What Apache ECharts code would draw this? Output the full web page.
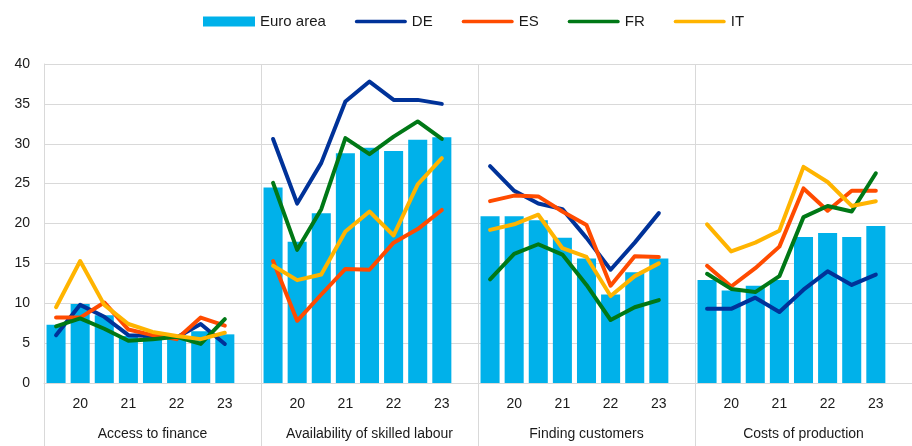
<!DOCTYPE html>
<html>
<head>
<meta charset="utf-8">
<script src="https://cdn.jsdelivr.net/npm/echarts@6/dist/echarts.min.js"></script>
<style>
  html, body { margin: 0; padding: 0; background: #fff; }
  #chart { width: 912px; height: 446px; }
</style>
</head>
<body>
<div id="chart"></div>
<script>
// topics (panels) and half-year periods inside each panel
const topics = ["Access to finance", "Availability of skilled labour", "Finding customers", "Costs of production"];
const periodLabels = ["", "20", "", "21", "", "22", "", "23"];

// one row per topic, 8 half-years each
const euroArea = [
	[7.3, 9.9, 8.5, 5.9, 5.8, 5.8, 6.5, 6.1],
	[24.5, 17.7, 21.3, 28.8, 29.5, 29.1, 30.5, 30.8],
	[20.9, 20.9, 20.4, 18.2, 15.6, 11.1, 13.9, 15.6],
	[12.9, 11.6, 12.2, 12.9, 18.3, 18.8, 18.3, 19.7],
];
const de = [
	[6.0, 9.8, 8.3, 6.0, 5.9, 5.7, 7.4, 4.9],
	[30.6, 22.5, 27.6, 35.3, 37.8, 35.5, 35.5, 35.0],
	[27.2, 24.1, 22.5, 21.8, 18.2, 14.2, 17.6, 21.3],
	[9.3, 9.3, 10.7, 8.9, 11.7, 14.0, 12.3, 13.6],
];
const es = [
	[8.2, 8.2, 10.1, 6.7, 6.0, 5.5, 8.2, 7.2],
	[15.3, 7.8, 11.1, 14.3, 14.2, 17.6, 19.3, 21.7],
	[22.8, 23.5, 23.4, 21.5, 19.8, 12.2, 15.9, 15.8],
	[14.7, 12.1, 14.4, 17.1, 24.4, 21.6, 24.1, 24.1],
];
const fr = [
	[7.1, 8.1, 6.8, 5.3, 5.5, 5.8, 4.9, 8.0],
	[25.1, 16.7, 21.8, 30.7, 28.7, 30.9, 32.8, 30.6],
	[13.0, 16.2, 17.4, 16.1, 12.3, 7.9, 9.5, 10.4],
	[13.7, 11.8, 11.4, 13.4, 20.8, 22.2, 21.5, 26.3],
];
const it = [
	[9.5, 15.3, 9.8, 7.4, 6.4, 5.9, 5.5, 6.3],
	[14.7, 12.9, 13.6, 19.0, 21.5, 18.5, 24.9, 28.2],
	[19.2, 19.9, 21.1, 16.9, 15.8, 10.9, 13.4, 15.0],
	[19.9, 16.5, 17.6, 19.1, 27.1, 25.2, 22.2, 22.8],
];

const colors = {
	"Euro area": "#00b1ea",
	DE: "#003299",
	ES: "#ff4b00",
	FR: "#007816",
	IT: "#ffb400",
};

// each panel gets an empty slot at the end
const flatten = (rows) => rows.flatMap((r) => r.concat([null]));
const xLabels = topics.flatMap(() => periodLabels.concat([""]));

const textColor = "#1a1a1a";
const gridColor = "#d9d9d9";
const font = "Liberation Sans, Arial, sans-serif";
// thick rounded stroke used as legend icon for the lines
const lineIcon = "path://M2,0 L54,0 A2,2 0 0 1 54,4 L2,4 A2,2 0 0 1 2,0 Z";

const lineSeries = (name, rows) => ({
	name: name,
	type: "line",
	data: flatten(rows),
	symbol: "none",
	lineStyle: { color: colors[name], width: 4, join: "round", cap: "round" },
	itemStyle: { color: colors[name] },
	z: 3,
});

const chart = echarts.init(document.getElementById("chart"), null, { renderer: "canvas" });

chart.setOption({
	animation: false,
	textStyle: { fontFamily: font },
	legend: {
		top: 9,
		left: 198,
		itemWidth: 52,
		itemHeight: 10,
		itemGap: 29,
		textStyle: { fontFamily: font, fontSize: 15, color: textColor },
		data: [
			{ name: "Euro area", icon: "rect" },
			{ name: "DE", icon: lineIcon },
			{ name: "ES", icon: lineIcon },
			{ name: "FR", icon: lineIcon },
			{ name: "IT", icon: lineIcon },
		],
	},
	grid: { left: 44, right: -3, top: 64, bottom: 63 },
	xAxis: [
		{
			type: "category",
			data: xLabels,
			axisLine: { show: true, lineStyle: { color: gridColor } },
			axisTick: { show: false },
			axisLabel: { interval: 0, margin: 14, fontSize: 14, color: textColor, fontFamily: font },
		},
		{
			type: "category",
			data: topics,
			position: "bottom",
			axisLine: { show: false },
			axisTick: { show: true, length: 63, lineStyle: { color: gridColor } },
			axisLabel: { interval: 0, margin: 44, fontSize: 14, color: textColor, fontFamily: font },
			splitLine: { show: true, lineStyle: { color: gridColor } },
		},
	],
	yAxis: {
		type: "value",
		min: 0,
		max: 40,
		interval: 5,
		axisLine: { show: true, lineStyle: { color: gridColor } },
		axisLabel: { margin: 14, fontSize: 14, color: textColor, fontFamily: font },
		splitLine: { lineStyle: { color: gridColor } },
	},
	series: [
		{
			name: "Euro area",
			type: "bar",
			data: flatten(euroArea),
			barCategoryGap: "21%",
			itemStyle: { color: colors["Euro area"] },
			z: 2,
		},
		lineSeries("DE", de),
		lineSeries("ES", es),
		lineSeries("FR", fr),
		lineSeries("IT", it),
	],
});
</script>
</body>
</html>
